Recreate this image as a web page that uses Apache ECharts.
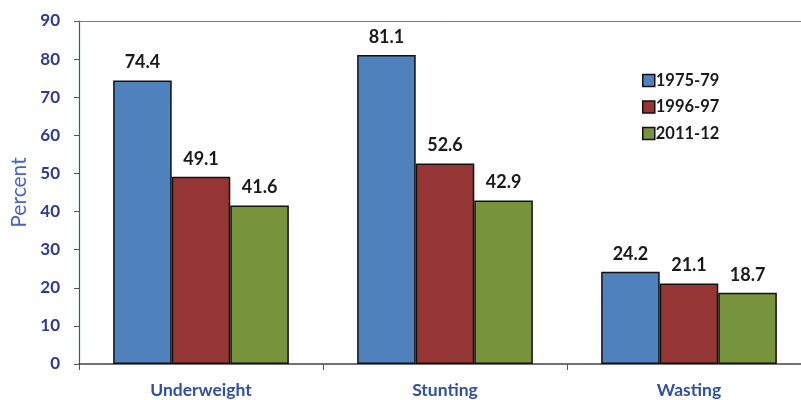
<!DOCTYPE html>
<html><head><meta charset="utf-8">
<script src="https://cdn.jsdelivr.net/npm/echarts@6/dist/echarts.min.js"></script>
<style>html,body{margin:0;padding:0;background:#fff}#c{width:801px;height:400px}</style>
</head><body><div id="c"></div>
<script>
const categories = ['Underweight', 'Stunting', 'Wasting'];
const s1975 = [74.4, 81.1, 24.2];
const s1996 = [49.1, 52.6, 21.1];
const s2011 = [41.6, 42.9, 18.7];
const seriesNames = ['1975-79', '1996-97', '2011-12'];
const colors = ['#4f81bd', '#963634', '#77933c'];
const yTicks = [0, 10, 20, 30, 40, 50, 60, 70, 80, 90];

const chart = echarts.init(document.getElementById('c'));
const font = 'Lato, "Liberation Sans", sans-serif';
function mk(name, data, color) {
  return {
    name, type: 'bar', data, barGap: '0%', barCategoryGap: '28%',
    itemStyle: { color, borderColor: '#111', borderWidth: 1.5 },
    label: { show: true, position: 'top', distance: 9, color: '#1a1a1a',
      fontFamily: font, fontWeight: 'bold', fontSize: 18, formatter: p => p.value.toFixed(1) }
  };
}
chart.setOption({
  animation: false,
  grid: { left: 79, top: 21, width: 732, bottom: 36, containLabel: false, outerBoundsMode: 'none' },
  legend: {
    orient: 'vertical', left: 637, top: 67, itemGap: 9.5, itemWidth: 12, itemHeight: 12,
    icon: 'rect', data: seriesNames,
    itemStyle: { borderColor: '#111', borderWidth: 1.5 },
    textStyle: { fontFamily: font, fontWeight: 'bold', fontSize: 16.5, color: '#1a1a1a', padding: [0, 0, 0, -4] }
  },
  xAxis: {
    type: 'category', data: categories,
    axisLine: { lineStyle: { color: '#444', width: 1.5 } },
    axisTick: { show: true, length: 6, lineStyle: { color: '#555' } },
    axisLabel: { fontFamily: font, fontWeight: 'bold', fontSize: 17.5, color: '#2f4fa8', margin: 17 }
  },
  yAxis: {
    type: 'value', min: 0, max: 90, interval: 10,
    name: 'Percent', nameLocation: 'middle', nameGap: 48, nameRotate: 90,
    nameTextStyle: { fontFamily: font, fontSize: 21, color: '#4a63c0' },
    axisLine: { show: true, lineStyle: { color: '#2f5f70', width: 1.2 } },
    axisTick: { show: true, length: 5, lineStyle: { color: '#555' } },
    axisLabel: { fontFamily: font, fontWeight: 'bold', fontSize: 17, color: '#2e3a94', margin: 19,
      formatter: v => yTicks.includes(v) ? String(v) : '' },
    splitLine: { show: false }
  },
  series: [mk(seriesNames[0], s1975, colors[0]), mk(seriesNames[1], s1996, colors[1]), mk(seriesNames[2], s2011, colors[2]),
    { type: 'line', data: [], markLine: { silent: true, symbol: 'none', label: { show: false },
      lineStyle: { color: '#777', type: 'solid', width: 1 }, data: [{ yAxis: 90 }] } }]
});
</script></body></html>
